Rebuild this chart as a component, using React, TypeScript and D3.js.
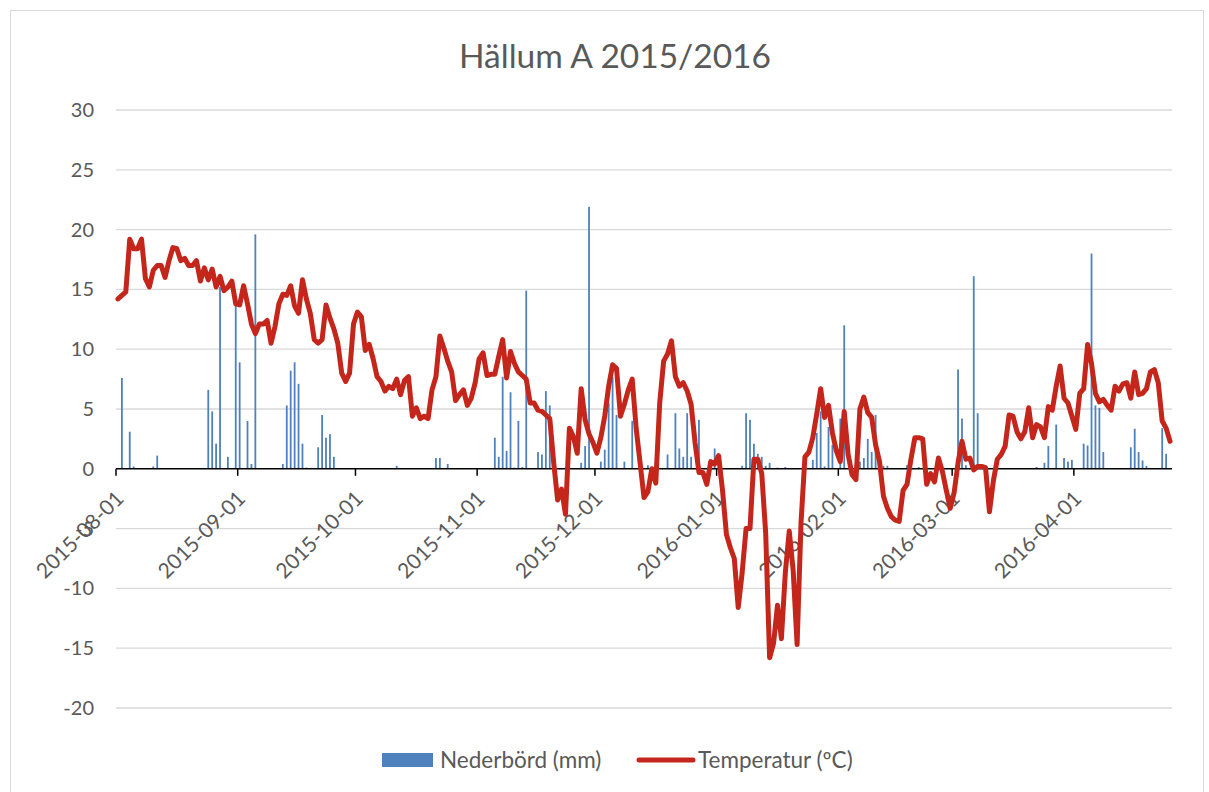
import React from "react";
import * as d3 from "d3";

const title = "Hällum A 2015/2016";
const startDate = "2015-08-01";
const monthTicks = ["2015-08-01","2015-09-01","2015-10-01","2015-11-01","2015-12-01","2016-01-01","2016-02-01","2016-03-01","2016-04-01"];
const yTicks = [30, 25, 20, 15, 10, 5, 0, -5, -10, -15, -20];
const seriesNames = ["Nederbörd (mm)", "Temperatur (ºC)"];

// daily temperature, 2015-08-01 .. 2016-04-25
const temperature = [
  14.2,14.5,14.8,19.2,18.4,18.4,19.2,15.9,15.2,16.6,
  17.0,17.0,16.0,17.4,18.5,18.4,17.4,17.6,17.0,17.0,
  17.4,15.7,16.8,15.8,16.7,15.2,16.1,14.9,15.2,15.7,
  13.8,13.7,15.3,13.8,12.1,11.3,12.1,12.1,12.4,10.5,
  11.9,13.8,14.6,14.5,15.3,13.6,13.0,15.8,14.2,13.0,
  10.8,10.5,10.8,13.7,12.6,11.7,10.5,8.0,7.3,8.0,
  12.1,13.1,12.7,9.9,10.4,9.2,7.7,7.3,6.5,6.9,
  6.7,7.5,6.2,7.4,7.7,4.4,5.1,4.2,4.4,4.2,
  6.6,7.7,11.1,10.1,9.0,8.1,5.7,6.2,6.6,5.3,
  5.9,7.2,9.2,9.7,7.8,7.9,7.9,9.4,10.8,7.6,
  9.8,8.8,8.1,7.8,7.5,5.5,5.5,4.9,4.8,4.5,
  4.2,0.5,-2.6,-1.7,-3.8,3.4,2.7,1.3,6.7,4.1,
  2.9,2.2,1.3,2.6,4.4,6.9,8.7,8.4,4.4,5.4,
  6.6,7.5,3.4,0.5,-2.4,-1.9,0.0,-1.2,5.5,9.0,
  9.6,10.7,7.7,6.9,7.2,6.5,5.4,2.2,-0.3,-0.3,
  -1.3,0.6,0.4,1.1,-1.8,-5.5,-6.6,-7.5,-11.6,-8.7,
  -5.0,-5.0,0.8,0.8,-0.4,-5.4,-15.8,-14.6,-11.4,-14.2,
  -8.7,-5.2,-8.5,-14.7,-4.5,1.0,1.4,2.6,4.6,6.7,
  4.3,5.3,3.0,1.5,0.6,4.8,1.2,-0.5,-0.9,5.0,
  6.0,4.7,4.3,2.0,0.6,-2.3,-3.3,-4.0,-4.3,-4.4,
  -1.8,-1.3,0.8,2.6,2.6,2.5,-1.3,-0.4,-1.1,0.9,
  -0.2,-1.8,-3.3,-2.0,0.5,2.3,0.8,0.9,-0.1,0.2,
  0.2,0.1,-3.6,-1.0,0.8,1.2,1.9,4.5,4.4,3.1,
  2.5,3.1,5.1,2.6,3.7,3.5,2.6,5.2,4.9,6.9,
  8.6,5.9,5.5,4.4,3.3,6.3,6.7,10.4,8.8,6.3,
  5.6,5.8,5.3,4.9,6.9,6.5,7.1,7.2,5.9,8.1,
  6.2,6.3,6.7,8.1,8.3,7.2,4.0,3.4,2.3
];

// daily precipitation, same days
const precipitation = [
  0,7.6,0,3.1,0.2,0,0,0,0,0.2,
  1.1,0,0,0,0,0,0,0,0,0,
  0,0,0,6.6,4.8,2.1,15.2,0.05,1.0,0,
  13.7,8.9,0,4.0,0.4,19.6,0,0,0,0,
  0,0,0.4,5.3,8.2,8.9,7.1,2.1,0.1,0,
  0,1.8,4.5,2.6,2.9,1.0,0,0,0,0,
  0,0,0,0,0,0,0,0,0,0.05,
  0,0.25,0,0,0,0,0,0,0,0,
  0,0.9,0.9,0,0.4,0,0,0,0,0,
  0,0,0,0,0,0,2.6,1.0,7.7,1.5,
  6.4,0.1,4.0,0.15,14.9,0,0,1.4,1.2,6.5,
  5.3,0,0,0,0,0,0,0,0.5,1.9,
  21.9,0,0,0.6,1.6,5.5,7.7,4.5,0,0.6,
  0,4.0,0,0,0,0.3,0,0,0,0,
  1.2,0,4.65,1.7,1.0,4.65,1.0,0,4.1,0,
  0,0,1.7,0,0,0,0,0,0,0.25,
  4.65,4.1,2.1,1.25,1.0,0.25,0.5,0,0.1,0,
  0.15,0,0,0,0,0,0,0.75,3.0,4.8,
  0.2,3.5,2.0,0,4.2,12.0,0,0,0,0.6,
  0.9,2.5,1.4,4.5,0,0.25,0.25,0,0,0,
  0,0.3,0.75,0,0.15,0,0,0,0,0,
  0,0,0,0,8.3,4.2,0.3,0,16.1,4.65,
  0,0,0,0,0,0,0,0,0,0,
  0,0,0,0,0.15,0,0.5,1.9,0,3.7,
  0,0.9,0.6,0.75,0,0,2.1,1.95,18.0,5.3,
  5.1,1.4,0,0,0,0,0,0.05,1.8,3.35,
  1.4,0.7,0.25,0,0,0,3.4,1.25,0
];

const W = 1209;
const H = 792;
const FONT = "Lato, 'Noto Sans', sans-serif";
const TEXT = "#595959";
const RED = "#C4261B";
const BLUE = "#4F81BD";

export default function App() {
  const parse = d3.utcParse("%Y-%m-%d");
  const start = parse(startDate)!;
  const nDays = temperature.length;
  const x = d3.scaleLinear().domain([0, nDays]).range([116, 1172]);
  const y = d3.scaleLinear().domain([-20, 30]).range([708, 110]);

  const line = d3
    .line<number>()
    .x((_, i) => x(i + 0.5))
    .y((d) => y(d));

  const tickPos = monthTicks.map((t) => ({
    label: t,
    pos: x(d3.utcDay.count(start, parse(t)!)),
  }));

  return (
    <svg
      width={W}
      height={H}
      style={{ position: "absolute", left: 0, top: 0, background: "#fff" }}
      fontFamily={FONT}
    >
      <rect x={10.5} y={10.5} width={1193} height={800} fill="#fff" stroke="#d9d9d9" strokeWidth={1} />
      <text x={615} y={68} textAnchor="middle" fontSize={33.5} fill={TEXT}>
        {title}
      </text>
      {yTicks.map((v) => (
        <g key={v}>
          {v !== 0 && (
            <line x1={x(0)} x2={x(nDays)} y1={y(v)} y2={y(v)} stroke="#d9d9d9" strokeWidth={1.3} />
          )}
          <text x={94} y={y(v) + 7} textAnchor="end" fontSize={20} fill={TEXT}>
            {v}
          </text>
        </g>
      ))}
      {precipitation.map((v, i) =>
        v > 0 ? (
          <rect
            key={i}
            x={x(i + 0.5) - 0.9}
            width={1.8}
            y={y(v)}
            height={Math.max(0, y(0) - y(v))}
            fill={BLUE}
          />
        ) : null
      )}
      <line x1={x(0)} x2={x(nDays)} y1={y(0)} y2={y(0)} stroke="#000" strokeWidth={1.5} />
      {tickPos.map((t) => (
        <g key={t.label}>
          <line x1={t.pos} x2={t.pos} y1={y(0)} y2={y(0) + 7} stroke="#000" strokeWidth={1.5} />
          <text
            transform={`translate(${t.pos + 9},${y(0) + 31}) rotate(-45)`}
            textAnchor="end"
            fontSize={21}
            fill={TEXT}
          >
            {t.label}
          </text>
        </g>
      ))}
      <path
        d={line(temperature) || ""}
        fill="none"
        stroke={RED}
        strokeWidth={5}
        strokeLinejoin="round"
        strokeLinecap="round"
      />
      <rect x={382} y={753} width={51} height={14} fill={BLUE} />
      <text x={440} y={768} fontSize={22.5} fill={TEXT}>
        {seriesNames[0]}
      </text>
      <line x1={639} x2={693} y1={760} y2={760} stroke={RED} strokeWidth={5} strokeLinecap="round" />
      <text x={698} y={768} fontSize={22.5} fill={TEXT}>
        {seriesNames[1]}
      </text>
    </svg>
  );
}
